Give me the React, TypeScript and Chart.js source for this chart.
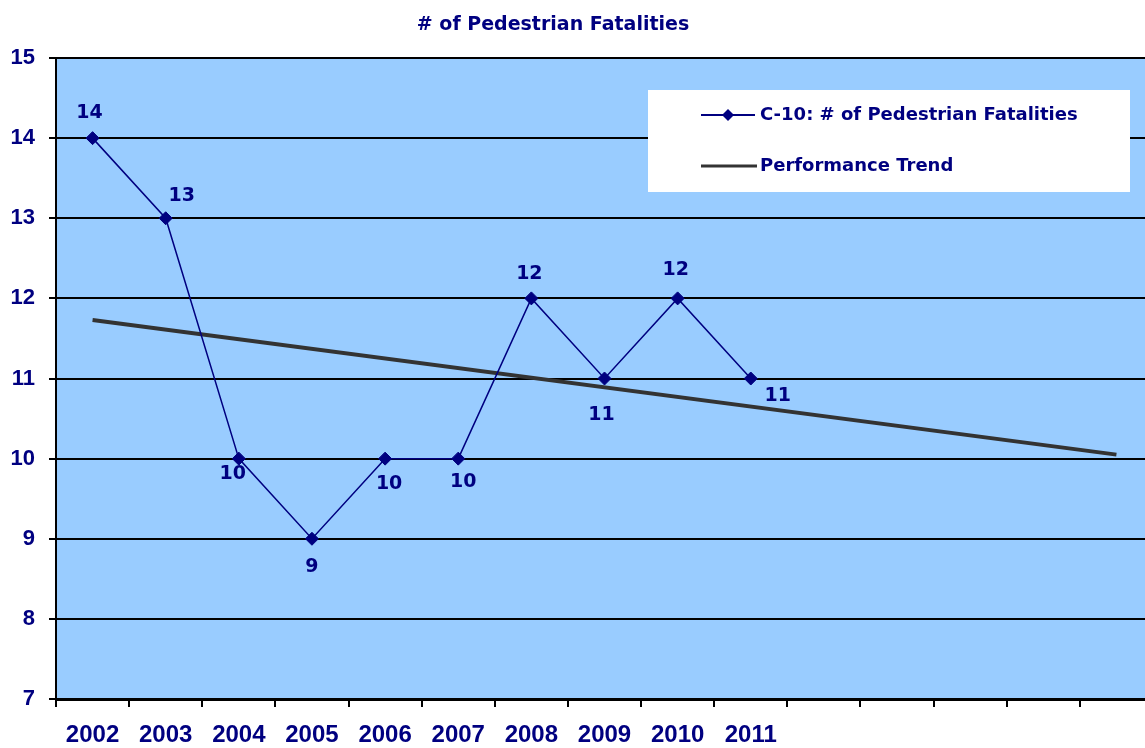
import React, { useEffect, useRef } from 'react';
import { Chart, registerables } from 'chart.js';

Chart.register(...registerables);

// ---- data ----
const categories = ['2002', '2003', '2004', '2005', '2006', '2007', '2008', '2009', '2010', '2011', '', '', '', '', ''];
const fatalities = [14, 13, 10, 9, 10, 10, 12, 11, 12, 11];
const trendValues: (number | null)[] = [11.73, null, null, null, null, null, null, null, null, null, null, null, null, null, 10.05];
const yMin = 7;
const yMax = 15;
const yStep = 1;
const chartTitle = '# of Pedestrian Fatalities';
const seriesLabel = 'C-10: # of Pedestrian Fatalities';
const trendLabel = 'Performance Trend';

// ---- styling ----
const NAVY = '#000080';
const TREND = '#333333';
const PLOT_BG = '#99CCFF';
const labelOffsets: [number, number][] = [
  [-3, -25], [16, -22], [-6, 15], [0, 28], [4, 25], [5, 23], [-2, -24], [-3, 37], [-2, -28], [27, 18],
];

const plotBg = {
  id: 'plotBg',
  beforeDraw(chart: any) {
    const { ctx, chartArea } = chart;
    ctx.save();
    ctx.fillStyle = PLOT_BG;
    ctx.fillRect(chartArea.left, chartArea.top, chartArea.right - chartArea.left, chartArea.bottom - chartArea.top);
    ctx.restore();
  },
};

function diamond(ctx: CanvasRenderingContext2D, x: number, y: number, r: number) {
  ctx.beginPath();
  ctx.moveTo(x, y - r);
  ctx.lineTo(x + r, y);
  ctx.lineTo(x, y + r);
  ctx.lineTo(x - r, y);
  ctx.closePath();
  ctx.fill();
}

const overlay = {
  id: 'overlay',
  afterDraw(chart: any) {
    const { ctx, chartArea } = chart;
    ctx.save();
    // title
    ctx.fillStyle = NAVY;
    ctx.font = 'bold 19px "DejaVu Sans"';
    ctx.textAlign = 'center';
    ctx.textBaseline = 'middle';
    ctx.fillText(chartTitle, 553, 25);

    // data labels
    const meta = chart.getDatasetMeta(0);
    ctx.font = 'bold 19px "DejaVu Sans"';
    meta.data.forEach((pt: any, i: number) => {
      const v = fatalities[i];
      const [dx, dy] = labelOffsets[i] || [0, -25];
      ctx.fillText(String(v), pt.x + dx, pt.y + dy);
    });

    // legend box
    const bx = chartArea.left + 592;
    const by = chartArea.top + 32;
    const bw = 482;
    const bh = 102;
    ctx.fillStyle = '#ffffff';
    ctx.fillRect(bx, by, bw, bh);

    const lineX0 = bx + 53;
    const lineX1 = bx + 107;
    const textX = bx + 112;
    const y1 = by + 25;
    const y2 = by + 76;

    ctx.strokeStyle = NAVY;
    ctx.lineWidth = 2;
    ctx.beginPath();
    ctx.moveTo(lineX0, y1);
    ctx.lineTo(lineX1, y1);
    ctx.stroke();
    ctx.fillStyle = NAVY;
    diamond(ctx, (lineX0 + lineX1) / 2, y1, 6);

    ctx.strokeStyle = TREND;
    ctx.lineWidth = 3;
    ctx.beginPath();
    ctx.moveTo(lineX0, y2);
    ctx.lineTo(lineX1 + 2, y2);
    ctx.stroke();

    ctx.fillStyle = NAVY;
    ctx.font = 'bold 18px "DejaVu Sans"';
    ctx.textAlign = 'left';
    ctx.textBaseline = 'middle';
    ctx.fillText(seriesLabel, textX, y1);
    ctx.fillText(trendLabel, textX, y2);
    ctx.restore();
  },
};

export default function App() {
  const canvasRef = useRef<HTMLCanvasElement | null>(null);

  useEffect(() => {
    document.body.style.margin = '0';
    document.body.style.overflow = 'hidden';
    const canvas = canvasRef.current;
    if (!canvas) return;
    const chart = new Chart(canvas, {
      type: 'line',
      data: {
        labels: categories,
        datasets: [
          {
            label: seriesLabel,
            data: fatalities,
            borderColor: NAVY,
            backgroundColor: NAVY,
            borderWidth: 1.5,
            pointStyle: 'rectRot',
            pointRadius: 6.5,
            pointBackgroundColor: NAVY,
            pointBorderColor: NAVY,
            pointBorderWidth: 1,
            tension: 0,
            order: 1,
          },
          {
            label: trendLabel,
            data: trendValues,
            borderColor: TREND,
            backgroundColor: TREND,
            borderWidth: 4,
            pointRadius: 0,
            spanGaps: true,
            tension: 0,
            order: 2,
          },
        ],
      },
      options: {
        responsive: false,
        animation: false,
        layout: { autoPadding: false, padding: { top: 58, left: 0, right: 0, bottom: 0 } },
        plugins: {
          legend: { display: false },
          title: { display: false },
          tooltip: { enabled: false },
        },
        scales: {
          x: {
            offset: true,
            grid: {
              offset: true,
              drawOnChartArea: false,
              drawTicks: true,
              tickLength: 8,
              color: '#000000',
              lineWidth: 2,
            },
            border: { display: true, color: '#000000', width: 3 },
            ticks: {
              autoSkip: false,
              maxRotation: 0,
              minRotation: 0,
              padding: 14,
              color: NAVY,
              font: { family: '"Liberation Sans"', weight: 'bold', size: 24 },
            },
            afterFit(scale: any) {
              scale.height = 49;
              scale.paddingRight = 0;
              scale.paddingLeft = 0;
            },
          },
          y: {
            min: yMin,
            max: yMax,
            ticks: {
              stepSize: yStep,
              padding: 14,
              color: NAVY,
              font: { family: '"Liberation Sans"', weight: 'bold', size: 22 },
            },
            grid: {
              color: '#000000',
              lineWidth: 2,
              drawTicks: true,
              tickLength: 7,
            },
            border: { display: true, color: '#000000', width: 2 },
            afterFit(scale: any) {
              scale.width = 56;
            },
          },
        },
      },
      plugins: [plotBg, overlay],
    });
    return () => chart.destroy();
  }, []);

  return (
    <div style={{ width: 1145, height: 748, overflow: 'hidden' }}>
      <canvas ref={canvasRef} width={1153} height={748} style={{ display: 'block' }} />
    </div>
  );
}
